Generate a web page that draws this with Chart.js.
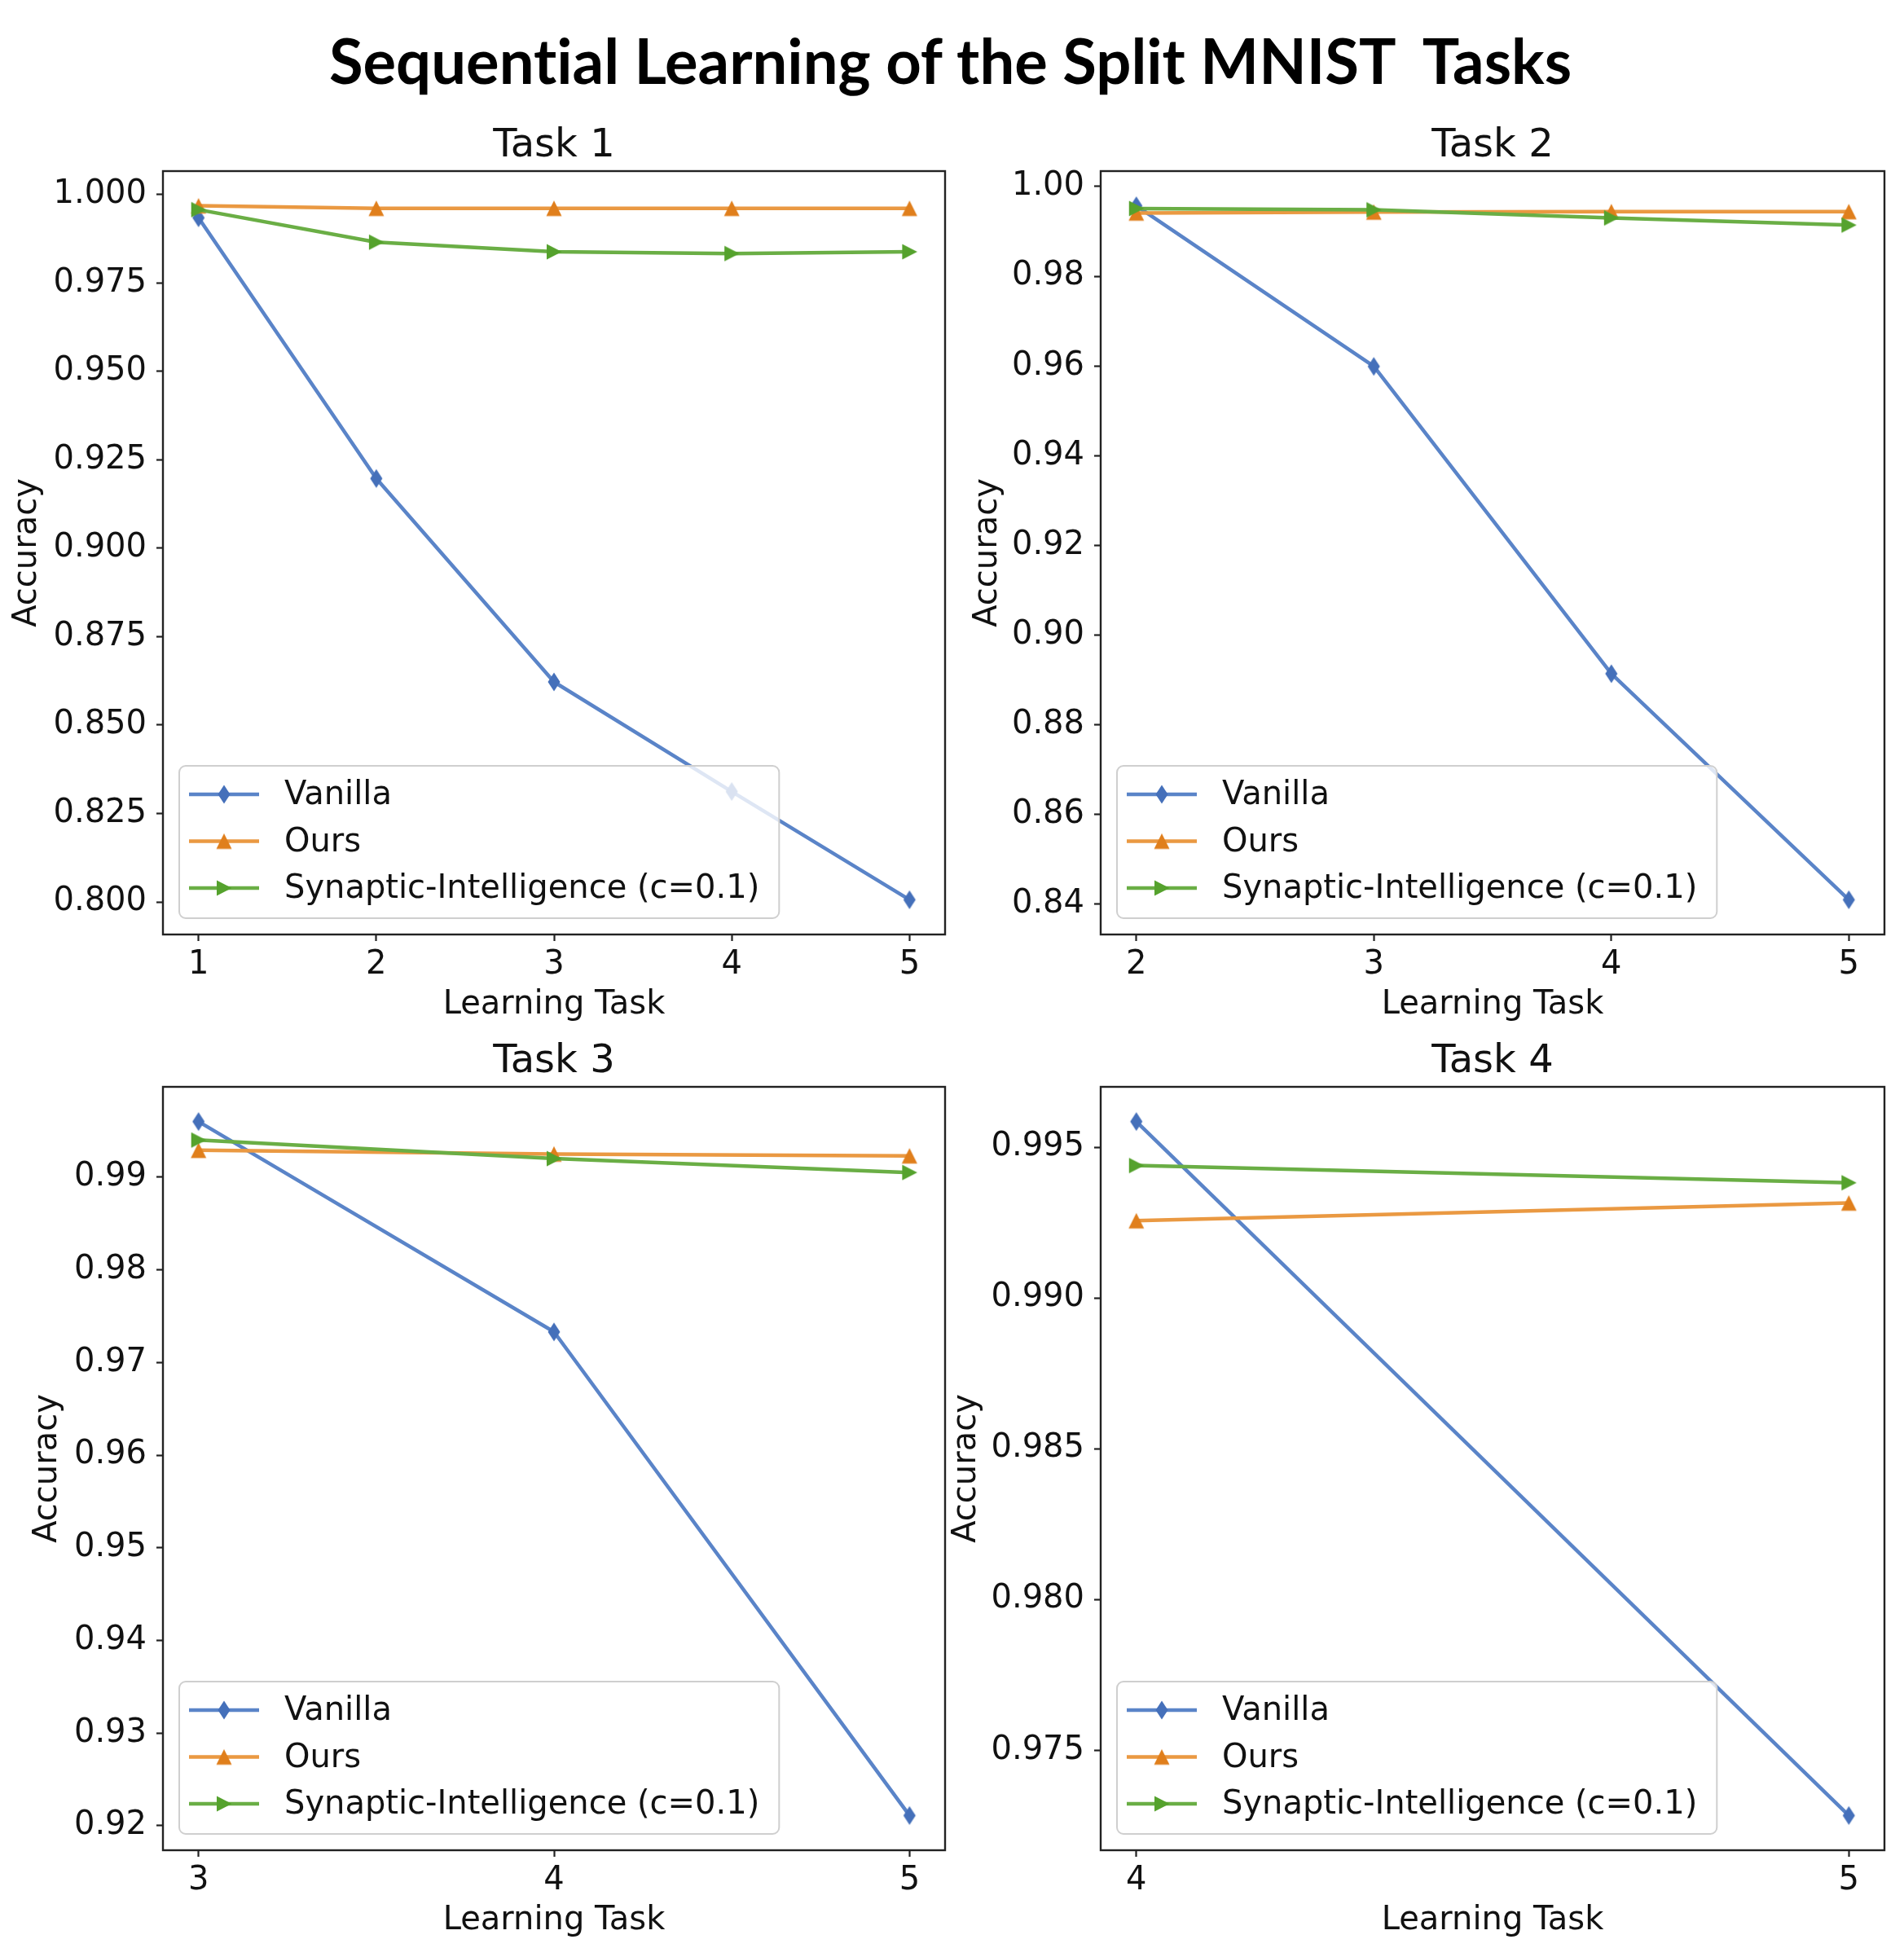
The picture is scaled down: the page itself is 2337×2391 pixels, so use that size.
<!DOCTYPE html>
<html>
<head>
<meta charset="utf-8">
<title>Sequential Learning of the Split MNIST Tasks</title>
<script src="https://cdn.jsdelivr.net/npm/chart.js@4.4.1/dist/chart.umd.min.js"></script>
<style>
  html, body { margin: 0; padding: 0; background: #fff; }
  #page { position: relative; width: 2337px; height: 2391px; overflow: hidden; background: #fff; }
  #mainTitle {
    position: absolute; left: 0; top: 36px; width: 2333px;
    text-align: center; white-space: pre;
    font-family: Lato, "Open Sans", sans-serif; font-weight: 700;
    font-variant-ligatures: none;
    font-size: 76px; line-height: 1; color: #000;
  }
  canvas { position: absolute; }
</style>
</head>
<body>
<div id="page">
  <div id="mainTitle">Sequential Learning of the Split MNIST  Tasks</div>
</div>
<script>
// Series labels
const seriesNames = ['Vanilla', 'Ours', 'Synaptic-Intelligence (c=0.1)'];

// Task 1
const task1Steps = [1, 2, 3, 4, 5];
const task1Vanilla = [0.9934, 0.9197, 0.8622, 0.8312, 0.8006];
const task1Ours = [0.9968, 0.9961, 0.9961, 0.9961, 0.9961];
const task1SI = [0.9957, 0.9865, 0.9838, 0.9833, 0.9838];
const task1YTicks = ['0.800', '0.825', '0.850', '0.875', '0.900', '0.925', '0.950', '0.975', '1.000'];

// Task 2
const task2Steps = [2, 3, 4, 5];
const task2Vanilla = [0.9957, 0.9599, 0.8914, 0.8410];
const task2Ours = [0.9941, 0.9943, 0.9944, 0.9944];
const task2SI = [0.9951, 0.9948, 0.9930, 0.9914];
const task2YTicks = ['0.84', '0.86', '0.88', '0.90', '0.92', '0.94', '0.96', '0.98', '1.00'];

// Task 3
const task3Steps = [3, 4, 5];
const task3Vanilla = [0.9960, 0.9733, 0.9211];
const task3Ours = [0.9929, 0.9925, 0.9923];
const task3SI = [0.9940, 0.9920, 0.9905];
const task3YTicks = ['0.92', '0.93', '0.94', '0.95', '0.96', '0.97', '0.98', '0.99'];

// Task 4
const task4Steps = [4, 5];
const task4Vanilla = [0.99585, 0.97283];
const task4Ours = [0.99256, 0.99315];
const task4SI = [0.99439, 0.99382];
const task4YTicks = ['0.975', '0.980', '0.985', '0.990', '0.995'];

// Styling
const lineColors = ['#5a84c8', '#ea9942', '#6aae45'];
const markerColors = ['#4570ba', '#e07f1c', '#55a22d'];
const markerShapes = ['thinDiamond', 'triangleUp', 'triangleRight'];

// Panel placement (pixels on the page)
const panels = [
  { title: 'Task 1', steps: task1Steps, series: [task1Vanilla, task1Ours, task1SI], yTicks: task1YTicks,
    plotLeft: 200, plotRight: 1160, plotTop: 210, plotBottom: 1147, yAxisWidth: 200, yTitlePad: 10 },
  { title: 'Task 2', steps: task2Steps, series: [task2Vanilla, task2Ours, task2SI], yTicks: task2YTicks,
    plotLeft: 1351, plotRight: 2313, plotTop: 210, plotBottom: 1147, yAxisWidth: 180, yTitlePad: 18 },
  { title: 'Task 3', steps: task3Steps, series: [task3Vanilla, task3Ours, task3SI], yTicks: task3YTicks,
    plotLeft: 200, plotRight: 1160, plotTop: 1334, plotBottom: 2271, yAxisWidth: 180, yTitlePad: 15 },
  { title: 'Task 4', steps: task4Steps, series: [task4Vanilla, task4Ours, task4SI], yTicks: task4YTicks,
    plotLeft: 1351, plotRight: 2313, plotTop: 1334, plotBottom: 2271, yAxisWidth: 200, yTitlePad: 12 }
];

const TITLE_BLOCK = 83;   // space above plot area
const XAXIS_BLOCK = 112;  // space below plot area
const RIGHT_PAD = 20;
const FONT = 'DejaVu Sans';
const TEXT = '#111';
const AXIS = '#222';

Chart.defaults.font.family = FONT;
Chart.defaults.color = TEXT;

function makeMarker(shape, color) {
  const c = document.createElement('canvas');
  c.width = 26;
  c.height = 26;
  const g = c.getContext('2d');
  g.fillStyle = color;
  g.beginPath();
  if (shape === 'thinDiamond') {
    g.moveTo(13, 1.5); g.lineTo(20.5, 13); g.lineTo(13, 24.5); g.lineTo(5.5, 13);
  } else if (shape === 'triangleUp') {
    g.moveTo(13, 3.5); g.lineTo(22.5, 22.5); g.lineTo(3.5, 22.5);
  } else {
    g.moveTo(22.5, 13); g.lineTo(4, 3.5); g.lineTo(4, 22.5);
  }
  g.closePath();
  g.fill();
  return c;
}

// matplotlib-style autoscale: 5% margin each side
function padRange(values) {
  const lo = Math.min(...values);
  const hi = Math.max(...values);
  const m = (hi - lo) * 0.05;
  return [lo - m, hi + m];
}

// Axes box + legend drawn over the lines
const frameAndLegend = {
  id: 'frameAndLegend',
  afterDatasetsDraw(chart) {
    const { ctx, chartArea: a } = chart;
    ctx.save();
    ctx.strokeStyle = AXIS;
    ctx.lineWidth = 2.4;
    ctx.strokeRect(a.left, a.top, a.right - a.left, a.bottom - a.top);

    const sets = chart.data.datasets;
    ctx.font = '40px "' + FONT + '"';
    const textW = Math.max(...sets.map(d => ctx.measureText(d.label).width));
    const bx = a.left + 20;
    const bh = 187;
    const by = a.bottom - 20 - bh;
    const bw = 129 + textW + 24;
    const r = 8;
    ctx.beginPath();
    ctx.moveTo(bx + r, by);
    ctx.arcTo(bx + bw, by, bx + bw, by + bh, r);
    ctx.arcTo(bx + bw, by + bh, bx, by + bh, r);
    ctx.arcTo(bx, by + bh, bx, by, r);
    ctx.arcTo(bx, by, bx + bw, by, r);
    ctx.closePath();
    ctx.fillStyle = 'rgba(255,255,255,0.8)';
    ctx.fill();
    ctx.strokeStyle = '#cfcfcf';
    ctx.lineWidth = 2;
    ctx.stroke();

    sets.forEach((d, i) => {
      const y = by + 35 + i * 57.5;
      ctx.strokeStyle = d.borderColor;
      ctx.lineWidth = d.borderWidth;
      ctx.beginPath();
      ctx.moveTo(bx + 12, y);
      ctx.lineTo(bx + 98, y);
      ctx.stroke();
      const img = d.pointStyle;
      ctx.drawImage(img, bx + 55 - img.width / 2, y - img.height / 2);
      ctx.fillStyle = TEXT;
      ctx.textBaseline = 'middle';
      ctx.textAlign = 'left';
      ctx.fillText(d.label, bx + 129, y + 2);
    });
    ctx.restore();
  }
};

const page = document.getElementById('page');

panels.forEach(p => {
  const canvas = document.createElement('canvas');
  const left = p.plotLeft - p.yAxisWidth;
  const top = p.plotTop - TITLE_BLOCK;
  const width = p.yAxisWidth + (p.plotRight - p.plotLeft) + RIGHT_PAD;
  const height = TITLE_BLOCK + (p.plotBottom - p.plotTop) + XAXIS_BLOCK;
  canvas.width = width;
  canvas.height = height;
  canvas.style.left = left + 'px';
  canvas.style.top = top + 'px';
  canvas.style.width = width + 'px';
  canvas.style.height = height + 'px';
  page.appendChild(canvas);

  const [xMin, xMax] = padRange(p.steps);
  const [yMin, yMax] = padRange(p.series.flat());
  const yValues = p.yTicks.map(Number);

  const datasets = p.series.map((vals, i) => ({
    label: seriesNames[i],
    data: p.steps.map((x, j) => ({ x: x, y: vals[j] })),
    borderColor: lineColors[i],
    borderWidth: 4.5,
    borderJoinStyle: 'round',
    tension: 0,
    fill: false,
    pointStyle: makeMarker(markerShapes[i], markerColors[i]),
    pointRadius: 9,
    order: 3 - i
  }));

  const tickGrid = {
    display: true,
    drawOnChartArea: false,
    drawTicks: true,
    tickLength: 8,
    tickWidth: 2.2,
    tickColor: AXIS
  };

  new Chart(canvas.getContext('2d'), {
    type: 'line',
    data: { datasets },
    options: {
      responsive: false,
      animation: false,
      events: [],
      layout: { padding: { left: 0, right: RIGHT_PAD, top: 0, bottom: 0 } },
      plugins: {
        legend: { display: false },
        tooltip: { enabled: false },
        title: {
          display: true,
          text: p.title,
          fullSize: false,
          color: TEXT,
          font: { size: 48, weight: 'normal' },
          padding: { top: 23.4, bottom: 2 }
        }
      },
      scales: {
        x: {
          type: 'linear',
          min: xMin,
          max: xMax,
          bounds: 'data',
          afterBuildTicks: ax => { ax.ticks = p.steps.map(v => ({ value: v })); },
          afterFit: ax => { ax.height = XAXIS_BLOCK; },
          grid: tickGrid,
          border: { display: false },
          ticks: { padding: 6, color: TEXT, font: { size: 40 }, maxRotation: 0, autoSkip: false,
                   callback: v => String(v) },
          title: { display: true, text: 'Learning Task', color: TEXT, font: { size: 40 },
                   padding: { top: 0, bottom: 1 } }
        },
        y: {
          type: 'linear',
          min: yMin,
          max: yMax,
          bounds: 'data',
          afterBuildTicks: ax => { ax.ticks = yValues.map(v => ({ value: v })); },
          afterFit: ax => { ax.width = p.yAxisWidth; },
          grid: tickGrid,
          border: { display: false },
          ticks: { padding: 12, color: TEXT, font: { size: 40 }, autoSkip: false,
                   callback: (v, i) => p.yTicks[i] },
          title: { display: true, text: 'Accuracy', color: TEXT, font: { size: 40 },
                   padding: { top: p.yTitlePad, bottom: 0 } }
        }
      }
    },
    plugins: [frameAndLegend]
  });
});
</script>
</body>
</html>
